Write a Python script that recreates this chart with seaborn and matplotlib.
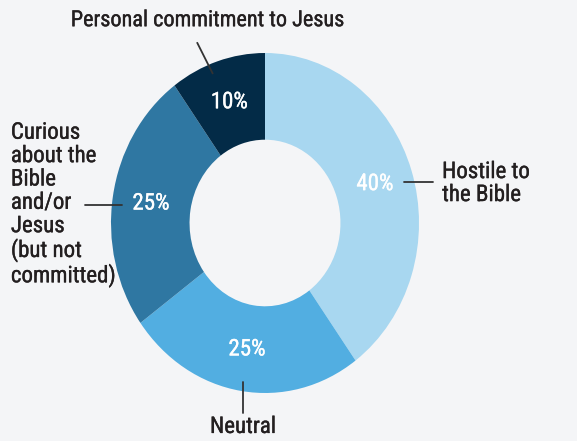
import numpy as np
import matplotlib
matplotlib.use("Agg")
from matplotlib import pyplot as plt
import matplotlib.patheffects as pe
import seaborn as sns

# data
labels = ["Hostile to\nthe Bible", "Neutral",
          "Curious\nabout the\nBible\nand/or\nJesus\n(but not\ncommitted)",
          "Personal commitment to Jesus"]
values = [40, 25, 25, 10]
colors = ["#a8d7f0", "#52aee1", "#2f77a2", "#032b47"]

bg = "#f4f5f7"
ink = "#231f20"

sns.set_style("white")
plt.rcParams['font.family'] = ['Roboto Condensed', 'DejaVu Sans']
plt.rcParams['font.stretch'] = 'condensed'

# thicken the regular weight a touch (reference sits between regular and bold)
dark_fx = [pe.withStroke(linewidth=0.25, foreground=ink)]
white_fx = [pe.withStroke(linewidth=0.25, foreground="white")]

fig = plt.figure(figsize=(5.77, 4.41), dpi=100, facecolor=bg)
ax = fig.add_axes([0, 0, 1, 1], facecolor=bg)

wedges, _, autotexts = ax.pie(values, colors=colors, startangle=90, counterclock=False,
                              radius=1.0, autopct='%d%%', pctdistance=0.75,
                              wedgeprops=dict(width=0.51, linewidth=0),
                              textprops=dict(color="white", fontsize=16.5, path_effects=white_fx))

# stretch to match reference (pixels per unit: 154 wide, 170 tall)
ax.set_aspect('auto')
ax.set_xlim(-265 / 154, (577 - 265) / 154)
ax.set_ylim(-(441 - 223) / 170, 223 / 170)
ax.axis('off')

# leader lines + outer labels
lk = dict(color="#333333", lw=1.3)
tk = dict(color=ink, fontsize=16.5, path_effects=dark_fx)
ax.plot([0.90, 1.09], [0.24, 0.24], **lk)
ax.text(1.15, 0.235, labels[0], ha='left', va='center', linespacing=1.0, **tk)

ax.plot([-0.143, -0.143], [-0.935, -1.115], **lk)
ax.text(-0.143, -1.235, labels[1], ha='center', va='baseline', **tk)

ax.plot([-1.17, -0.93], [0.106, 0.106], **lk)
ax.text(-1.65, 0.11, labels[2], ha='left', va='center', linespacing=1.02, **tk)

ax.plot([-0.44, -0.34], [1.06, 0.88], **lk)
ax.text(-0.37, 1.19, labels[3], ha='center', va='center',
        color=ink, fontsize=16, path_effects=dark_fx)

plt.savefig("out.png", dpi=100, facecolor=bg)
